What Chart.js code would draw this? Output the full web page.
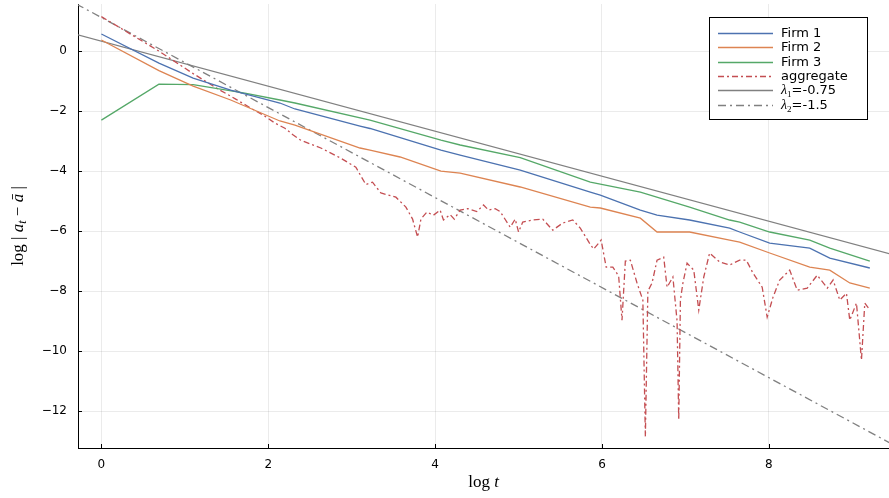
<!DOCTYPE html>
<html>
<head>
<meta charset="utf-8">
<script src="https://cdn.jsdelivr.net/npm/chart.js@4.4.1/dist/chart.umd.min.js"></script>
<style>
html, body { margin: 0; padding: 0; background: #fff; }
</style>
</head>
<body>
<canvas id="chart" width="889" height="498"></canvas>
<script>
// ============ DATA ============
const firm1X = [0, 0.69, 1.1, 1.55, 2.14, 2.32, 3.1, 3.22, 4.07, 4.3, 5.02, 5.86, 5.98, 6.46, 6.66, 7.05, 7.53, 7.65, 8.01, 8.49, 8.73, 9.21];
const firm1Y = [0.57, -0.4, -0.9, -1.3, -1.73, -1.93, -2.5, -2.58, -3.3, -3.47, -3.97, -4.7, -4.8, -5.3, -5.47, -5.63, -5.9, -6.03, -6.4, -6.57, -6.9, -7.23];

const firm2X = [0, 0.69, 1.1, 1.55, 2.14, 2.32, 3.1, 3.22, 3.58, 4.07, 4.3, 5.02, 5.86, 5.98, 6.46, 6.66, 7.05, 7.53, 7.65, 8.01, 8.49, 8.73, 8.97, 9.21];
const firm2Y = [0.37, -0.65, -1.17, -1.63, -2.33, -2.47, -3.23, -3.3, -3.53, -4.0, -4.07, -4.53, -5.2, -5.23, -5.57, -6.03, -6.03, -6.3, -6.37, -6.73, -7.2, -7.3, -7.73, -7.9];

const firm3X = [0, 0.69, 1.1, 1.72, 2.14, 2.32, 3.22, 4.07, 4.3, 5.02, 5.86, 6.46, 7.05, 7.53, 7.65, 8.01, 8.49, 8.73, 9.21];
const firm3Y = [-2.3, -1.1, -1.12, -1.4, -1.63, -1.73, -2.3, -2.97, -3.13, -3.55, -4.37, -4.7, -5.2, -5.63, -5.7, -6.03, -6.3, -6.57, -7.0];

const aggX = [0, 0.69, 1.1, 1.39, 1.61, 1.79, 1.95, 2.08, 2.2, 2.3, 2.39, 2.63, 2.87, 3.05, 3.17, 3.25, 3.35, 3.53, 3.65, 3.73, 3.79, 3.83, 3.9, 3.98, 4.06, 4.1, 4.18, 4.23, 4.3, 4.39, 4.5, 4.58, 4.64, 4.72, 4.78, 4.9, 4.96, 5.0, 5.05, 5.17, 5.29, 5.41, 5.53, 5.65, 5.74, 5.85, 5.9, 5.99, 6.05, 6.13, 6.2, 6.24, 6.28, 6.34, 6.42, 6.49, 6.52, 6.55, 6.6, 6.66, 6.74, 6.78, 6.85, 6.9, 6.92, 6.94, 6.97, 7.02, 7.1, 7.16, 7.22, 7.29, 7.41, 7.53, 7.65, 7.73, 7.81, 7.92, 7.98, 8.05, 8.13, 8.25, 8.34, 8.46, 8.58, 8.7, 8.77, 8.85, 8.93, 8.97, 9.05, 9.11, 9.15, 9.21];
const aggY = [1.15, 0.0, -0.75, -1.25, -1.6, -1.9, -2.15, -2.4, -2.57, -2.8, -2.97, -3.23, -3.57, -3.87, -4.45, -4.37, -4.73, -4.87, -5.2, -5.6, -6.2, -5.6, -5.37, -5.47, -5.3, -5.63, -5.45, -5.6, -5.3, -5.25, -5.35, -5.13, -5.3, -5.25, -5.35, -5.87, -5.6, -6.03, -5.7, -5.63, -5.6, -5.97, -5.73, -5.63, -5.9, -6.4, -6.6, -6.3, -7.2, -7.2, -7.5, -8.97, -7.0, -6.97, -7.73, -8.3, -12.85, -8.0, -7.73, -6.97, -6.87, -7.87, -7.53, -9.0, -12.3, -8.3, -7.73, -7.07, -7.3, -8.63, -7.53, -6.73, -7.03, -7.13, -6.97, -6.97, -7.4, -7.87, -8.87, -8.2, -7.63, -7.3, -7.97, -7.9, -7.47, -7.9, -7.63, -8.3, -8.07, -8.97, -8.4, -10.3, -8.4, -8.63];

const lambda1X = [-0.3, 9.45];
const lambda1Y = [0.555, -6.76];
const lambda2X = [-0.3, 9.45];
const lambda2Y = [1.57, -13.06];

const xTicks = [0, 2, 4, 6, 8];
const yTicks = [0, -2, -4, -6, -8, -10, -12];

const labels = ['Firm 1', 'Firm 2', 'Firm 3', 'aggregate', 'λ1=-0.75', 'λ2=-1.5'];

// ============ HELPERS ============
function pts(xs, ys) {
    return xs.map((x, i) => ({ x: x, y: ys[i] }));
}

function drawRuns(ctx, runs, x, y) {
    runs.forEach(r => {
        ctx.font = r.f;
        ctx.fillText(r.t, x, y + (r.dy || 0));
        x += ctx.measureText(r.t).width;
    });
}

function runsWidth(ctx, runs) {
    let w = 0;
    runs.forEach(r => { ctx.font = r.f; w += ctx.measureText(r.t).width; });
    return w;
}

const SERIF = '"Liberation Serif", "DejaVu Serif", serif';
const SANS = '"DejaVu Sans", sans-serif';

// titles, inward ticks and the framed legend
const decorations = {
    id: 'decorations',
    afterDraw(chart) {
        const { ctx, chartArea: a, scales } = chart;
        ctx.save();

        // inward ticks
        ctx.strokeStyle = '#000';
        ctx.lineWidth = 1;
        xTicks.forEach(v => {
            const px = Math.round(scales.x.getPixelForValue(v)) + 0.5;
            ctx.beginPath(); ctx.moveTo(px, a.bottom); ctx.lineTo(px, a.bottom - 4); ctx.stroke();
        });
        yTicks.forEach(v => {
            const py = Math.round(scales.y.getPixelForValue(v)) + 0.5;
            ctx.beginPath(); ctx.moveTo(a.left, py); ctx.lineTo(a.left + 4, py); ctx.stroke();
        });

        ctx.fillStyle = '#000';
        ctx.textBaseline = 'alphabetic';

        // x title: log t
        const xRuns = [
            { t: 'log ', f: '17px ' + SERIF },
            { t: 't', f: 'italic 17px ' + SERIF }
        ];
        const xw = runsWidth(ctx, xRuns);
        drawRuns(ctx, xRuns, (a.left + a.right) / 2 - xw / 2, 487);

        // y title: log | a_t − ā |
        const yRuns = [
            { t: 'log | ', f: '17px ' + SERIF },
            { t: 'a', f: 'italic 17px ' + SERIF },
            { t: 't', f: 'italic 12px ' + SERIF, dy: 3 },
            { t: ' − ', f: '17px ' + SERIF },
            { t: 'a\u0304', f: 'italic 17px ' + SERIF },
            { t: ' |', f: '17px ' + SERIF }
        ];
        const yw = runsWidth(ctx, yRuns);
        ctx.save();
        ctx.translate(23, (a.top + a.bottom) / 2);
        ctx.rotate(-Math.PI / 2);
        drawRuns(ctx, yRuns, -yw / 2, 0);
        ctx.restore();

        // legend
        const lx = 709, ly = 17, lw = 158, lh = 102;
        ctx.fillStyle = '#fff';
        ctx.fillRect(lx, ly, lw, lh);
        ctx.strokeStyle = '#000';
        ctx.lineWidth = 1;
        ctx.strokeRect(lx + 0.5, ly + 0.5, lw, lh);
        chart.data.datasets.forEach((ds, i) => {
            const yy = Math.round(ly + 16 + i * 14.3) + 0.5;
            ctx.strokeStyle = ds.borderColor;
            ctx.lineWidth = ds.borderWidth;
            ctx.setLineDash(ds.borderDash || []);
            ctx.beginPath(); ctx.moveTo(lx + 9, yy); ctx.lineTo(lx + 64, yy); ctx.stroke();
            ctx.setLineDash([]);
            ctx.fillStyle = '#000';
            ctx.textBaseline = 'middle';
            if (i >= 4) {
                const parts = ds.label.split('=');
                drawRuns(ctx, [
                    { t: 'λ', f: 'italic 14px ' + SERIF },
                    { t: parts[0].slice(1), f: '9px ' + SERIF, dy: 4 },
                    { t: '=' + parts[1], f: '13px ' + SANS }
                ], lx + 72, yy);
            } else {
                ctx.font = '13px ' + SANS;
                ctx.fillText(ds.label, lx + 72, yy);
            }
        });
        ctx.restore();
    }
};

function line(label, xs, ys, color, dash) {
    return {
        label: label,
        data: pts(xs, ys),
        borderColor: color,
        backgroundColor: color,
        borderWidth: 1.3,
        borderDash: dash || [],
        pointRadius: 0,
        tension: 0,
        fill: false
    };
}

new Chart(document.getElementById('chart').getContext('2d'), {
    type: 'line',
    data: {
        datasets: [
            line(labels[0], firm1X, firm1Y, '#4C72B0'),
            line(labels[1], firm2X, firm2Y, '#DD8452'),
            line(labels[2], firm3X, firm3Y, '#55A868'),
            line(labels[3], aggX, aggY, '#C44E52', [6, 3, 2, 3]),
            line(labels[4], lambda1X, lambda1Y, '#808080'),
            line(labels[5], lambda2X, lambda2Y, '#808080', [8, 4, 2, 4])
        ]
    },
    options: {
        responsive: false,
        animation: false,
        layout: { padding: { top: 4, right: 0, left: 0, bottom: 0 } },
        plugins: { legend: { display: false }, tooltip: { enabled: false } },
        scales: {
            x: {
                type: 'linear',
                min: -0.28,
                max: 9.44,
                afterBuildTicks: s => { s.ticks = xTicks.map(v => ({ value: v })); },
                afterFit: s => { s.height = 50; s.paddingLeft = 0; s.paddingRight = 0; },
                ticks: { color: '#000', font: { family: 'DejaVu Sans', size: 12 }, padding: 10, callback: v => String(v) },
                grid: { color: 'rgba(0,0,0,0.08)', drawTicks: false },
                border: { color: '#000', width: 1 }
            },
            y: {
                type: 'linear',
                min: -13.23,
                max: 1.57,
                afterBuildTicks: s => { s.ticks = yTicks.map(v => ({ value: v })); },
                afterFit: s => { s.width = 78; s.paddingTop = 0; s.paddingBottom = 0; },
                ticks: { color: '#000', font: { family: 'DejaVu Sans', size: 12 }, padding: 11, callback: v => v < 0 ? '\u2212' + Math.abs(v) : String(v) },
                grid: { color: 'rgba(0,0,0,0.08)', drawTicks: false },
                border: { color: '#000', width: 1 }
            }
        }
    },
    plugins: [decorations]
});
</script>
</body>
</html>
